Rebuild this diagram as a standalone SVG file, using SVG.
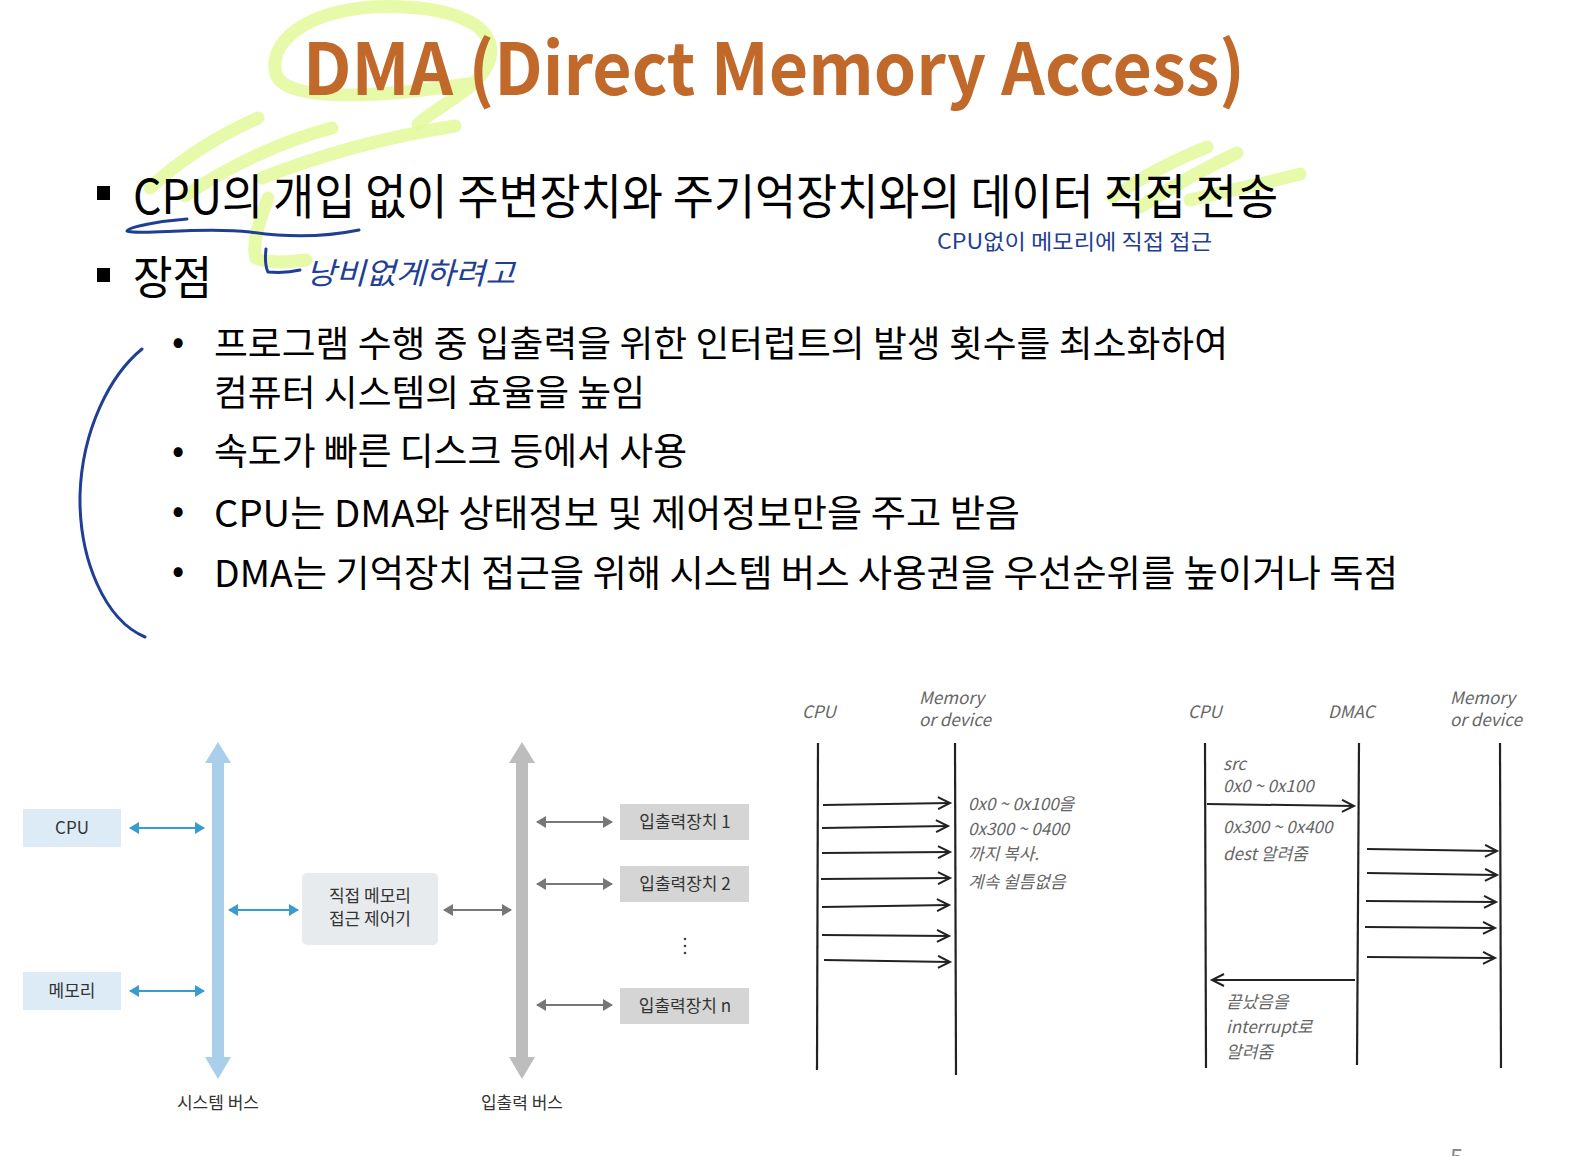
<svg xmlns="http://www.w3.org/2000/svg" width="1574" height="1156" viewBox="0 0 1574 1156">
<style>
.kr{font-family:"Noto Sans CJK KR","Noto Sans",sans-serif;}
.title{font-family:"Noto Sans CJK KR","Noto Sans",sans-serif;font-weight:bold;fill:#C0692A;}
.main{font-family:"Noto Sans CJK KR","Noto Sans",sans-serif;fill:#000;}
.blue{font-family:"Noto Sans CJK KR","Noto Sans",sans-serif;fill:#1F3F94;}
.hl{fill:none;stroke:#E2F99A;stroke-opacity:0.85;stroke-width:13;stroke-linecap:round;stroke-linejoin:round;}
.pen{fill:none;stroke:#1F3F94;stroke-width:3;stroke-linecap:round;stroke-linejoin:round;}
.lbl{font-family:"Noto Sans CJK KR","Noto Sans",sans-serif;font-size:17px;fill:#333;}
.sk{font-family:"Noto Sans CJK KR","DejaVu Sans",sans-serif;font-style:italic;font-size:17px;fill:#666;}
.life{stroke:#222;stroke-width:2.2;fill:none;}
.msg{stroke:#222;stroke-width:2;fill:none;marker-end:url(#chev);}
.barb{stroke:#3A9BCF;stroke-width:2;fill:none;marker-start:url(#ab);marker-end:url(#ab);}
.garb{stroke:#777;stroke-width:2;fill:none;marker-start:url(#ag);marker-end:url(#ag);}
</style>
<defs>
<marker id="chev" markerUnits="userSpaceOnUse" markerWidth="16" markerHeight="16" refX="13" refY="7" orient="auto">
<path d="M1,1 L13,7 L1,13" fill="none" stroke="#222" stroke-width="2"/>
</marker>
<marker id="ab" markerUnits="userSpaceOnUse" markerWidth="12" markerHeight="12" refX="9" refY="6" orient="auto-start-reverse">
<path d="M0,0 L10,6 L0,12 Z" fill="#3A9BCF"/>
</marker>
<marker id="ag" markerUnits="userSpaceOnUse" markerWidth="12" markerHeight="12" refX="9" refY="6" orient="auto-start-reverse">
<path d="M0,0 L10,6 L0,12 Z" fill="#777"/>
</marker>
</defs>
<rect width="1574" height="1156" fill="#fff"/>

<g id="highlights">
<path class="hl" d="M418,124 C440,104 482,88 490,58 C498,20 440,4 372,7 C305,12 268,42 276,74 C284,100 360,100 468,84"/>
<path class="hl" d="M150,188 C180,160 220,135 258,118"/>
<path class="hl" d="M185,196 C230,165 285,140 332,128"/>
<path class="hl" d="M262,178 C320,155 380,138 455,126"/>
<path class="hl" d="M268,198 C258,225 252,245 256,258 C268,264 290,262 306,260"/>
<path class="hl" d="M1113,197 C1140,178 1175,160 1207,147"/>
<path class="hl" d="M1140,207 C1170,188 1205,168 1237,153"/>
<path class="hl" d="M1190,200 C1230,190 1270,182 1300,174"/>
</g>

<g id="title">
<text class="title" x="303" y="95" font-size="72" textLength="942" lengthAdjust="spacingAndGlyphs">DMA (Direct Memory Access)</text>
</g>

<g id="bullets">
<rect x="97" y="186" width="13" height="14" fill="#000"/>
<text class="main" x="133" y="214" font-size="48" textLength="1145" lengthAdjust="spacingAndGlyphs">CPU의 개입 없이 주변장치와 주기억장치와의 데이터 직접 전송</text>
<text class="blue" x="937" y="249" font-size="21" textLength="275" lengthAdjust="spacingAndGlyphs">CPU없이 메모리에 직접 접근</text>
<rect x="97" y="268" width="13" height="14" fill="#000"/>
<text class="main" x="133" y="294" font-size="46" textLength="79" lengthAdjust="spacingAndGlyphs">장점</text>
<text class="blue" x="306" y="284" font-size="30" font-style="italic" textLength="209" lengthAdjust="spacingAndGlyphs">낭비없게하려고</text>

<text class="main" x="172" y="354" font-size="36">•</text>
<text class="main" x="214" y="357" font-size="36" textLength="1014" lengthAdjust="spacingAndGlyphs">프로그램 수행 중 입출력을 위한 인터럽트의 발생 횟수를 최소화하여</text>
<text class="main" x="214" y="406" font-size="36" textLength="431" lengthAdjust="spacingAndGlyphs">컴퓨터 시스템의 효율을 높임</text>
<text class="main" x="172" y="463" font-size="36">•</text>
<text class="main" x="214" y="465" font-size="37" textLength="473" lengthAdjust="spacingAndGlyphs">속도가 빠른 디스크 등에서 사용</text>
<text class="main" x="172" y="523" font-size="36">•</text>
<text class="main" x="214" y="527" font-size="37" textLength="806" lengthAdjust="spacingAndGlyphs">CPU는 DMA와 상태정보 및 제어정보만을 주고 받음</text>
<text class="main" x="172" y="583" font-size="36">•</text>
<text class="main" x="214" y="587" font-size="37" textLength="1184" lengthAdjust="spacingAndGlyphs">DMA는 기억장치 접근을 위해 시스템 버스 사용권을 우선순위를 높이거나 독점</text>
</g>

<g id="pen">
<path class="pen" d="M187,219 C160,221 128,227 127,231 C140,236 200,226 250,232 C290,238 325,237 359,230" stroke-width="3.5"/>
<path class="pen" d="M266,249 C265,258 265,266 268,272 C280,273 292,272 300,270"/>
<path class="pen" d="M142,349 C110,375 82,430 80,495 C79,560 105,620 145,637" stroke-width="2.5"/>
</g>

<g id="system-bus">
<polygon points="218,742 231,763 224,763 224,1057 231,1057 218,1079 205,1057 212,1057 212,763 205,763" fill="#A9CFEA"/>
<text class="lbl" x="218" y="1109" text-anchor="middle">시스템 버스</text>
</g>
<g id="io-bus">
<polygon points="522,742 535,763 528,763 528,1057 535,1057 522,1079 509,1057 516,1057 516,763 509,763" fill="#BDBDBD"/>
<text class="lbl" x="522" y="1109" text-anchor="middle">입출력 버스</text>
</g>
<g id="cpu-box">
<rect x="23" y="809" width="98" height="38" fill="#DDEBF7"/>
<text class="lbl" x="72" y="834" text-anchor="middle">CPU</text>
</g>
<g id="mem-box">
<rect x="23" y="972" width="98" height="38" fill="#DDEBF7"/>
<text class="lbl" x="72" y="997" text-anchor="middle">메모리</text>
</g>
<g id="dma-box">
<rect x="302" y="873" width="136" height="72" rx="5" fill="#E8EBEE"/>
<text class="lbl" x="370" y="902" text-anchor="middle">직접 메모리</text>
<text class="lbl" x="370" y="925" text-anchor="middle">접근 제어기</text>
</g>
<g id="io1">
<rect x="620" y="804" width="129" height="36" fill="#D5D5D5"/>
<text class="lbl" x="685" y="828" text-anchor="middle">입출력장치 1</text>
</g>
<g id="io2">
<rect x="620" y="866" width="129" height="36" fill="#D5D5D5"/>
<text class="lbl" x="685" y="890" text-anchor="middle">입출력장치 2</text>
</g>
<g id="ion">
<rect x="620" y="988" width="129" height="36" fill="#D5D5D5"/>
<text class="lbl" x="685" y="1012" text-anchor="middle">입출력장치 n</text>
</g>
<g id="dots">
<circle cx="685" cy="939" r="1.3" fill="#444"/>
<circle cx="685" cy="946" r="1.3" fill="#444"/>
<circle cx="685" cy="953" r="1.3" fill="#444"/>
</g>

<g id="connectors">
<line class="barb" x1="130" y1="828" x2="204" y2="828"/>
<line class="barb" x1="130" y1="991" x2="204" y2="991"/>
<line class="barb" x1="229" y1="910" x2="298" y2="910"/>
<line class="garb" x1="444" y1="910" x2="511" y2="910"/>
<line class="garb" x1="537" y1="822" x2="612" y2="822"/>
<line class="garb" x1="537" y1="884" x2="612" y2="884"/>
<line class="garb" x1="537" y1="1005" x2="612" y2="1005"/>

<line class="life" x1="818" y1="743" x2="817" y2="1070"/>
<line class="life" x1="955" y1="743" x2="956" y2="1075"/>
<line class="msg" x1="823" y1="805" x2="950" y2="803"/>
<line class="msg" x1="822" y1="828" x2="948" y2="826"/>
<line class="msg" x1="822" y1="853" x2="950" y2="852"/>
<line class="msg" x1="821" y1="879" x2="950" y2="878"/>
<line class="msg" x1="822" y1="907" x2="949" y2="905"/>
<line class="msg" x1="822" y1="935" x2="949" y2="936"/>
<line class="msg" x1="824" y1="960" x2="950" y2="962"/>

<line class="life" x1="1205" y1="743" x2="1206" y2="1068"/>
<line class="life" x1="1359" y1="743" x2="1357" y2="1065"/>
<line class="life" x1="1500" y1="743" x2="1501" y2="1068"/>
<line class="msg" x1="1207" y1="804" x2="1354" y2="806"/>
<line class="msg" x1="1367" y1="849" x2="1497" y2="851"/>
<line class="msg" x1="1367" y1="873" x2="1497" y2="875"/>
<line class="msg" x1="1366" y1="901" x2="1496" y2="902"/>
<line class="msg" x1="1365" y1="927" x2="1495" y2="928"/>
<line class="msg" x1="1367" y1="957" x2="1495" y2="958"/>
<line class="msg" x1="1355" y1="980" x2="1212" y2="980"/>
</g>

<g id="sketch-labels">
<text class="sk" x="802" y="718">CPU</text>
<text class="sk" x="919" y="704">Memory</text>
<text class="sk" x="919" y="726">or device</text>
<text class="sk" x="968" y="810" font-size="15">0x0 ~ 0x100을</text>
<text class="sk" x="968" y="835" font-size="15">0x300 ~ 0400</text>
<text class="sk" x="968" y="860" font-size="15">까지 복사.</text>
<text class="sk" x="968" y="888" font-size="15">계속 쉴틈없음</text>

<text class="sk" x="1188" y="718">CPU</text>
<text class="sk" x="1328" y="718">DMAC</text>
<text class="sk" x="1450" y="704">Memory</text>
<text class="sk" x="1450" y="726">or device</text>
<text class="sk" x="1223" y="770" font-size="15">src</text>
<text class="sk" x="1223" y="792" font-size="15">0x0 ~ 0x100</text>
<text class="sk" x="1223" y="833" font-size="15">0x300 ~ 0x400</text>
<text class="sk" x="1223" y="860" font-size="15">dest 알려줌</text>
<text class="sk" x="1226" y="1008" font-size="15">끝났음을</text>
<text class="sk" x="1226" y="1033" font-size="15">interrupt로</text>
<text class="sk" x="1226" y="1058" font-size="15">알려줌</text>
</g>
<text class="kr" x="1450" y="1166" font-size="24" fill="#888">5</text>
</svg>
